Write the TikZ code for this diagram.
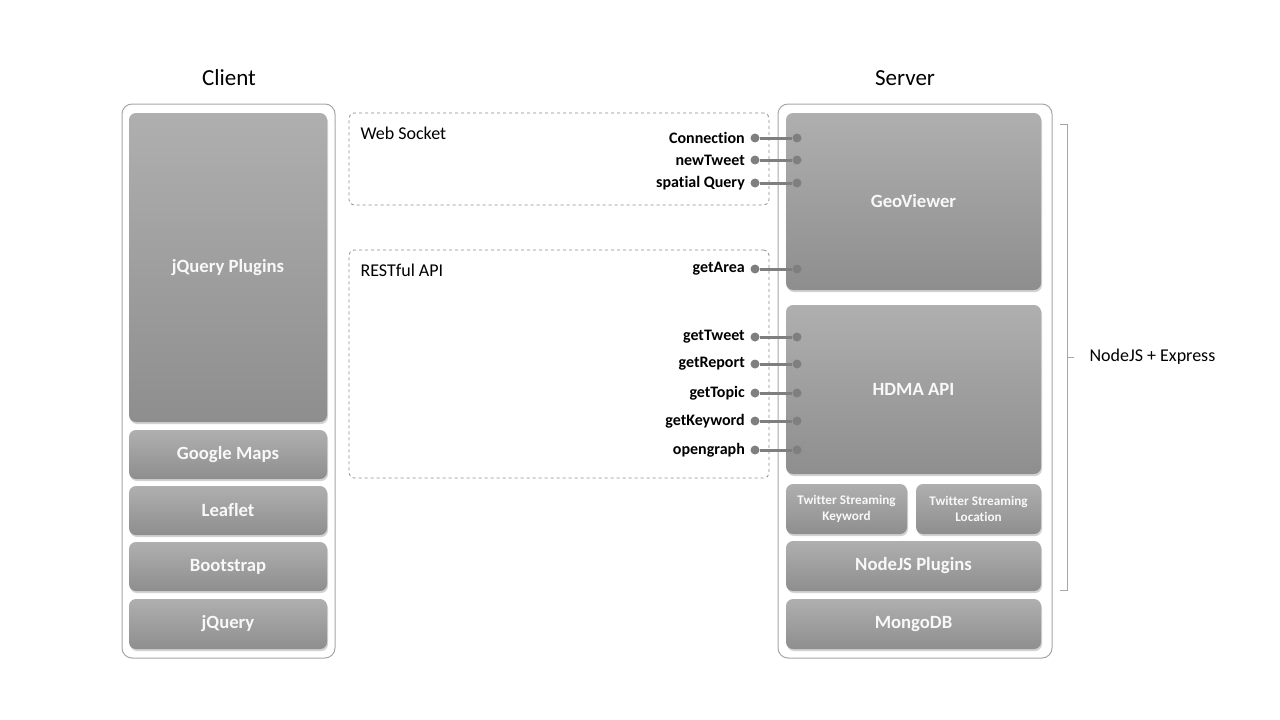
\documentclass[tikz,border=0pt]{standalone}
\usepackage{fontspec}
\setmainfont{Carlito}[Ligatures={NoCommon}]
\usetikzlibrary{shadows}
\definecolor{boxtop}{HTML}{AFAFAF}
\definecolor{boxbot}{HTML}{8E8E8E}
\definecolor{boxtxt}{HTML}{F8F8F8}
\definecolor{outline}{HTML}{A6A6A6}
\definecolor{dash}{HTML}{8A8A8A}
\definecolor{conncol}{HTML}{7F7F7F}
\tikzset{
  outerbox/.style={draw=outline, line width=1pt, fill=white, rounded corners=10pt, inner sep=0pt},
  blk/.style={rounded corners=7pt, top color=boxtop, bottom color=boxbot, draw=none,
    text=boxtxt, font=\fontsize{18.7}{20}\selectfont\bfseries, inner sep=0pt, align=center,
    drop shadow={opacity=0.35, shadow xshift=1pt, shadow yshift=-2pt}},
  smallblk/.style={blk, font=\fontsize{13.2}{16}\selectfont\bfseries},
  dashbox/.style={draw=dash, dashed, line width=0.8pt, rounded corners=5pt, inner sep=0pt},
  title/.style={font=\fontsize{23}{26}\selectfont},
  grouplbl/.style={font=\fontsize{18}{20}\selectfont, anchor=west},
  dotnode/.style={circle, fill=conncol, inner sep=0pt, minimum size=9pt},
  conn/.style={draw=conncol, line width=3pt},
  lbl/.style={font=\fontsize{16}{18}\selectfont\bfseries, anchor=east, inner sep=0pt},
  brace/.style={draw=outline, line width=1pt}
}
\begin{document}
\begin{tikzpicture}[x=1pt,y=-1pt]
\useasboundingbox (0,0) rectangle (1280,720);
% titles
\node[title] (tclient) at (229,78) {Client};
\node[title] (tserver) at (905,78) {Server};
% client
\node[outerbox, minimum width=213pt, minimum height=554pt] (client) at (228.5,381) {};
\node[blk, minimum width=198pt, minimum height=309pt] (jqp) at (228,267.5) {jQuery Plugins};
\node[blk, minimum width=198pt, minimum height=49pt] (gmaps) at (228,454.5) {Google Maps};
\node[blk, minimum width=198pt, minimum height=49pt] (leaflet) at (228,510.5) {Leaflet};
\node[blk, minimum width=198pt, minimum height=49pt] (boot) at (228,566.5) {Bootstrap};
\node[blk, minimum width=198pt, minimum height=50pt] (jq) at (228,624) {jQuery};
% server
\node[outerbox, minimum width=274pt, minimum height=554pt] (server) at (915,381) {};
\node[blk, minimum width=255pt, minimum height=177pt] (geo) at (913.5,201.5) {GeoViewer};
\node[blk, minimum width=255pt, minimum height=169pt] (hdma) at (913.5,389.5) {HDMA API};
\node[smallblk, minimum width=121pt, minimum height=50pt] (tsk) at (846.5,509) {Twitter Streaming\\Keyword};
\node[smallblk, minimum width=125pt, minimum height=50pt] (tsl) at (978.5,509) {Twitter Streaming\\Location};
\node[blk, minimum width=255pt, minimum height=50pt] (njp) at (913.5,566) {NodeJS Plugins};
\node[blk, minimum width=255pt, minimum height=50pt] (mongo) at (913.5,624) {MongoDB};
% dashed groups
\node[dashbox, minimum width=420pt, minimum height=92pt] (ws) at (559,159) {};
\node[dashbox, minimum width=420pt, minimum height=228pt] (rest) at (559,364) {};
\node[grouplbl] (wslbl) at (357,133) {Web Socket};
\node[grouplbl] (restlbl) at (357,270) {RESTful API};
% connectors
\foreach \n/\y/\t in {a/138/Connection, b/160/newTweet, c/183/spatial Query, d/269/getArea,
  e/337/getTweet, f/364/getReport, g/393/getTopic, h/421/getKeyword, i/450/opengraph}{
  \node[dotnode] (\n l) at (755,\y) {};
  \node[dotnode] (\n r) at (797,\y) {};
  \draw[conn] (\n l) -- (\n r);
  \node[lbl] (\n t) at (745,\y) {\t};
}
% brace
\coordinate (bt0) at (1060,124);
\coordinate (bt1) at (1067,124);
\coordinate (bm0) at (1067,357);
\coordinate (bm1) at (1074,357);
\coordinate (bb1) at (1067,590);
\coordinate (bb0) at (1060,590);
\draw[brace] (bt0) -- (bt1) -- (bb1) -- (bb0);
\draw[brace] (bm0) -- (bm1);
\node[grouplbl] (nodeexp) at (1086,357) {NodeJS + Express};
\end{tikzpicture}
\end{document}
